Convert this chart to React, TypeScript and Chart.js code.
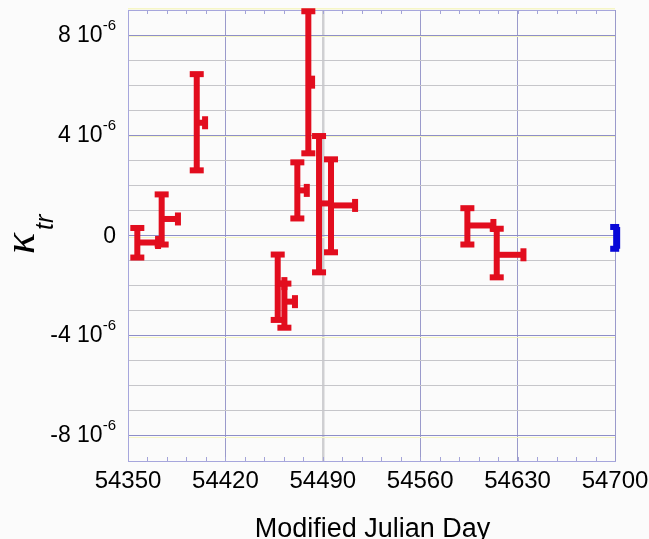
import React, { useEffect, useRef } from "react";
import { Chart, registerables } from "chart.js";
Chart.register(...registerables);

// Axis definitions (kappa values in units of 1e-6)
const X_MIN = 54350;
const X_MAX = 54700;
const X_MINOR_STEP = 14;
const X_LABELS = [54350, 54420, 54490, 54560, 54630, 54700];
const Y_MIN = -9;
const Y_MAX = 9;
const Y_LABELS = [8, 4, 0, -4, -8];

// Red series: start MJD, end MJD of interval, kappa, lower and upper error limits
const RED_MJD = [54356.7, 54374.2, 54399.4, 54457.6, 54462.4, 54471.7, 54479.6, 54487.3, 54495.9, 54593.9, 54615.0];
const RED_MJD_END = [54371.6, 54385.9, 54405.4, 54462.4, 54470.0, 54478.5, 54482.3, 54495.9, 54513.2, 54612.6, 54634.2];
const RED_KAPPA = [-0.28, 0.66, 4.5, -1.92, -2.64, 1.8, 6.12, 1.28, 1.2, 0.4, -0.77];
const RED_LOW = [-0.88, -0.36, 2.6, -3.37, -3.68, 0.68, 3.28, -1.47, -0.67, -0.36, -1.67];
const RED_HIGH = [0.3, 1.64, 6.44, -0.76, -1.92, 2.92, 8.95, 3.97, 3.04, 1.09, 0.27];

// Blue series
const BLUE_MJD = [54701.2];
const BLUE_MJD_END = [54701.2];
const BLUE_KAPPA = [-0.1];
const BLUE_LOW = [-0.53];
const BLUE_HIGH = [0.34];

const FONT = "'Liberation Sans', Arial, sans-serif";

const bgPlugin = {
  id: "bg",
  beforeDraw(chart: any) {
    const { ctx, width, height } = chart;
    ctx.save();
    ctx.fillStyle = "#fbfbfb";
    ctx.fillRect(0, 0, width, height);
    ctx.restore();
  },
};

const decorPlugin = {
  id: "decor",
  beforeDatasetsDraw(chart: any) {
    const { ctx, chartArea, scales } = chart;
    const x = scales.x;
    const y = scales.y;
    ctx.save();
    // pale yellow highlight just under the major y lines
    ctx.fillStyle = "#f6f6c6";
    for (const v of Y_LABELS) {
      const py = Math.round(y.getPixelForValue(v));
      ctx.fillRect(chartArea.left + 1, py + 1, chartArea.right - chartArea.left - 1, 1);
    }
    ctx.fillRect(chartArea.left, chartArea.top - 2, chartArea.right - chartArea.left, 1.5);
    // minor x ticks, inward at top and bottom
    ctx.strokeStyle = "#a4a4d8";
    ctx.lineWidth = 1;
    for (let v = X_MIN + X_MINOR_STEP; v < X_MAX; v += X_MINOR_STEP) {
      const px = Math.round(x.getPixelForValue(v)) + 0.5;
      ctx.beginPath();
      ctx.moveTo(px, chartArea.bottom);
      ctx.lineTo(px, chartArea.bottom - 4);
      ctx.moveTo(px, chartArea.top);
      ctx.lineTo(px, chartArea.top + 4);
      ctx.stroke();
    }
    ctx.restore();
  },
  afterDraw(chart: any) {
    const { ctx, chartArea, scales } = chart;
    const y = scales.y;
    ctx.save();
    ctx.fillStyle = "#000";
    // y tick labels with superscript exponent
    const rightEdge = 116;
    for (const v of Y_LABELS) {
      const py = y.getPixelForValue(v);
      ctx.textAlign = "right";
      ctx.textBaseline = "alphabetic";
      if (v === 0) {
        ctx.font = `23px ${FONT}`;
        ctx.fillText("0", rightEdge, py + 7.5);
      } else {
        ctx.font = `15px ${FONT}`;
        const sup = "-6";
        const sw = ctx.measureText(sup).width;
        ctx.fillText(sup, rightEdge, py - 5.5);
        ctx.font = `23px ${FONT}`;
        ctx.fillText(`${v} 10`, rightEdge - sw, py + 6.5);
      }
    }
    // x title
    ctx.font = `27px ${FONT}`;
    ctx.textAlign = "center";
    ctx.fillText("Modified Julian Day", (chartArea.left + chartArea.right) / 2 + 1, 537);
    // y title: kappa with subscript tr
    ctx.translate(34, 254);
    ctx.rotate(-Math.PI / 2);
    ctx.textAlign = "left";
    ctx.font = `italic 44px 'Liberation Serif', serif`;
    ctx.fillText("κ", 0, 0);
    ctx.font = `italic 25px ${FONT}`;
    ctx.fillText("tr", 24, 19);
    ctx.restore();
  },
};

const errorBarPlugin = {
  id: "errbars",
  afterDatasetsDraw(chart: any) {
    const { ctx, scales } = chart;
    const x = scales.x;
    const y = scales.y;
    ctx.save();
    chart.data.datasets.forEach((ds: any) => {
      const eb = ds.errorBars;
      ctx.fillStyle = ds.barColor;
      const t = eb.thick;
      const capW = eb.capW;
      const capT = 6;
      ds.data.forEach((p: any, i: number) => {
        const px = x.getPixelForValue(p.x);
        const py = y.getPixelForValue(p.y);
        const pl = y.getPixelForValue(eb.low[i]);
        const ph = y.getPixelForValue(eb.high[i]);
        const pe = x.getPixelForValue(eb.end[i]);
        // vertical error bar
        ctx.fillRect(px - t / 2, ph, t, pl - ph);
        // caps
        ctx.fillRect(px - capW * eb.capLeft, ph - capT / 2, capW, capT);
        ctx.fillRect(px - capW * eb.capLeft, pl - capT / 2, capW, capT);
        // horizontal interval bar with end cap
        if (pe - px > 1) {
          ctx.fillRect(px, py - t / 2, pe - px, t);
          ctx.fillRect(pe - capT / 2, py - 6.5, capT, 13);
        }
      });
    });
    ctx.restore();
  },
};

function makeData(mjd: number[], kappa: number[]) {
  return mjd.map((m, i) => ({ x: m, y: kappa[i] }));
}

export default function App() {
  const ref = useRef<HTMLCanvasElement>(null);
  useEffect(() => {
    document.body.style.margin = "0";
    const minorTicks: number[] = [];
    for (let v = X_MIN; v <= X_MAX; v += X_MINOR_STEP) minorTicks.push(v);
    const chart = new Chart(ref.current as HTMLCanvasElement, {
      type: "scatter",
      data: {
        datasets: [
          {
            data: makeData(RED_MJD, RED_KAPPA),
            pointRadius: 0,
            showLine: false,
            barColor: "#e20d1e",
            errorBars: { low: RED_LOW, high: RED_HIGH, end: RED_MJD_END, capW: 14, capLeft: 0.5, thick: 6 },
          } as any,
          {
            data: makeData(BLUE_MJD, BLUE_KAPPA),
            pointRadius: 0,
            showLine: false,
            barColor: "#0808d8",
            errorBars: { low: BLUE_LOW, high: BLUE_HIGH, end: BLUE_MJD_END, capW: 9, capLeft: 0.72, thick: 7 },
          } as any,
        ],
      },
      options: {
        responsive: false,
        animation: false,
        layout: { padding: { left: 0, right: 34, top: 10, bottom: 0 } },
        plugins: { legend: { display: false }, tooltip: { enabled: false } },
        scales: {
          x: {
            type: "linear",
            min: X_MIN,
            max: X_MAX,
            afterBuildTicks: (scale: any) => {
              scale.ticks = minorTicks.map((v) => ({ value: v }));
            },
            afterFit: (scale: any) => {
              scale.height = 78;
              scale.paddingLeft = 0;
              scale.paddingRight = 0;
            },
            ticks: {
              autoSkip: false,
              maxRotation: 0,
              padding: 6,
              color: "#000",
              font: { family: FONT, size: 24 },
              callback: (v: any) => (X_LABELS.includes(Number(v)) ? String(v) : ""),
            },
            grid: {
              drawTicks: false,
              color: (c: any) => {
                const v = c.tick?.value;
                if (v === 54490) return "#cfcfd2";
                if (X_LABELS.includes(v)) return "#9a9acb";
                return "rgba(0,0,0,0)";
              },
              lineWidth: (c: any) => (c.tick?.value === 54490 ? 2.5 : 1),
            },
            border: { color: "#a6a6dc", width: 1 },
          },
          y: {
            type: "linear",
            min: Y_MIN,
            max: Y_MAX,
            afterFit: (scale: any) => {
              scale.width = 128;
            },
            ticks: { display: false, stepSize: 1 },
            grid: {
              drawTicks: false,
              color: (c: any) => {
                const v = c.tick?.value;
                if (Math.abs(v) === 9) return "#a6a6dc";
                if (v % 4 === 0) return "#8e8ec8";
                return "#c6c6ca";
              },
            },
            border: { color: "#a6a6dc", width: 1 },
          },
        },
      },
      plugins: [bgPlugin, decorPlugin, errorBarPlugin],
    } as any);
    return () => chart.destroy();
  }, []);
  return (
    <div style={{ width: 649, height: 539 }}>
      <canvas ref={ref} width={649} height={539} style={{ display: "block" }} />
    </div>
  );
}
